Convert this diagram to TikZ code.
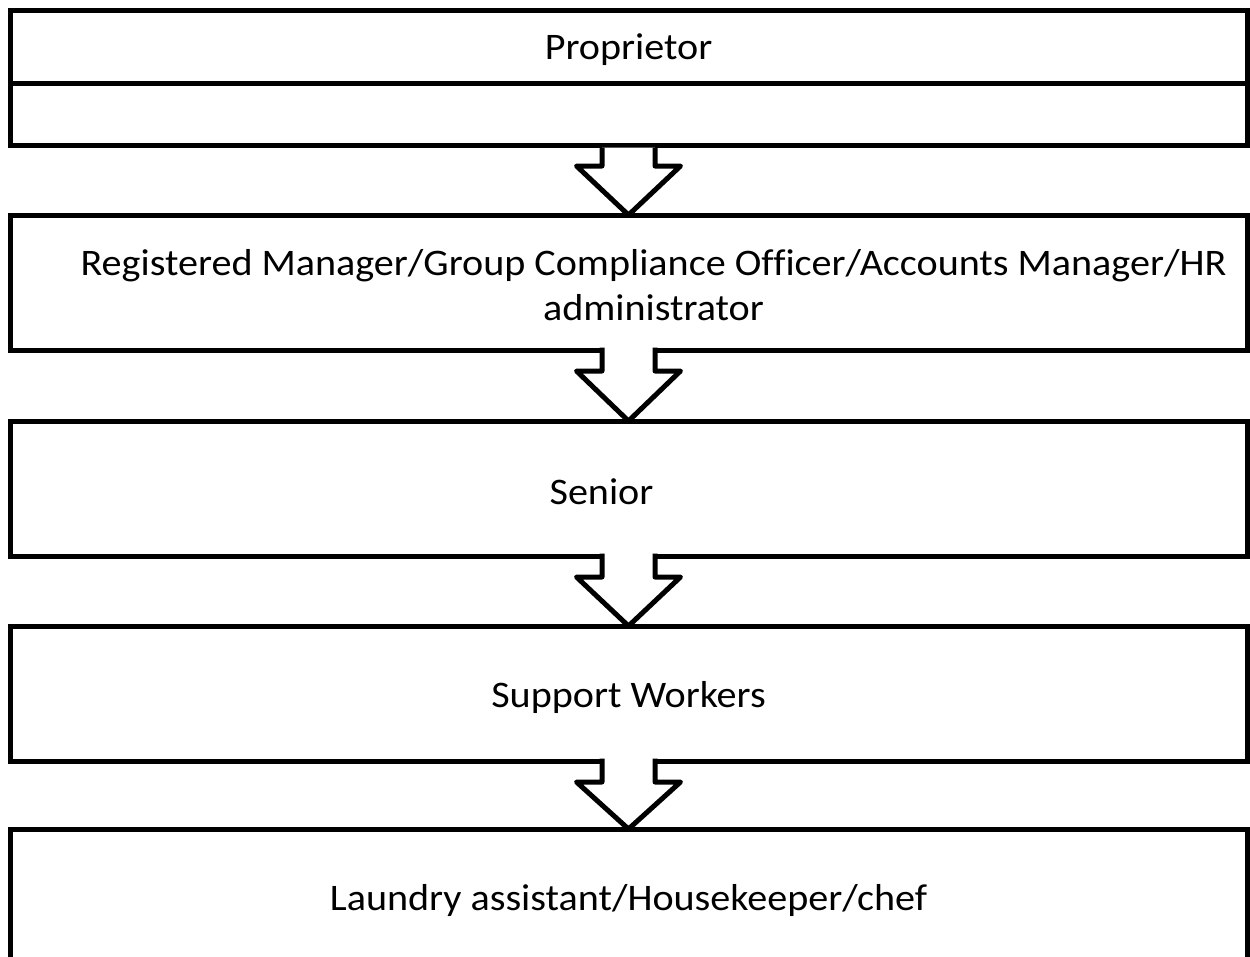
\documentclass[tikz,border=0pt]{standalone}
\usepackage{fontspec}
\setmainfont{Carlito}[FakeStretch=1.07, Ligatures=NoCommon]
\usetikzlibrary{calc}

\tikzset{
  tier/.style={draw, line width=5pt, minimum width=1237pt, outer sep=0pt, inner sep=0pt},
  caption/.style={inner sep=0pt, align=center, font=\fontsize{37.5}{45}\selectfont},
  downarrow/.style={draw, fill=white, line width=5pt, line join=round}
}

\begin{document}
\begin{tikzpicture}[x=1pt,y=-1pt]
\clip (0,0) rectangle (1250,956);

% Boxes
\node[tier, minimum height=72.5] (prop) at (628.5,46.75) {};
\node[tier, minimum height=62, anchor=north] (propb) at (prop.south) {};
\node[tier, minimum height=135] (reg) at (628.5,282.5) {};
\node[tier, minimum height=135] (senior) at (628.5,488.5) {};
\node[tier, minimum height=135] (support) at (628.5,693.5) {};
\node[tier, minimum height=136] (laundry) at (628.5,897) {};

% Texts
\node[caption] (proptxt) at ($(prop.center)+(0,3)$) {Proprietor};
\node[caption] (regtxt) at ($(reg.center)+(25,3)$)
  {Registered Manager/Group Compliance Officer/Accounts Manager/HR\\administrator};
\node[caption] (seniortxt) at ($(senior.center)+(-27,3)$) {Senior};
\node[caption] (supporttxt) at ($(support.center)+(0,4)$) {Support Workers};
\node[caption] (laundrytxt) at ($(laundry.center)+(0,3)$) {Laundry assistant/Housekeeper/chef};

% Arrows
\foreach \a/\b/\s in {propb/reg/2.5, reg/senior/-2.5, senior/support/-2.5, support/laundry/-2.5}
  \draw[downarrow] ($(\a.south)+(-26.5,\s)$) -- ($(\a.south)+(-26.5,21)$)
    -- ($(\a.south)+(-52,21)$) -- (\b.north) -- ($(\a.south)+(52,21)$)
    -- ($(\a.south)+(26.5,21)$) -- ($(\a.south)+(26.5,\s)$);

\end{tikzpicture}
\end{document}
